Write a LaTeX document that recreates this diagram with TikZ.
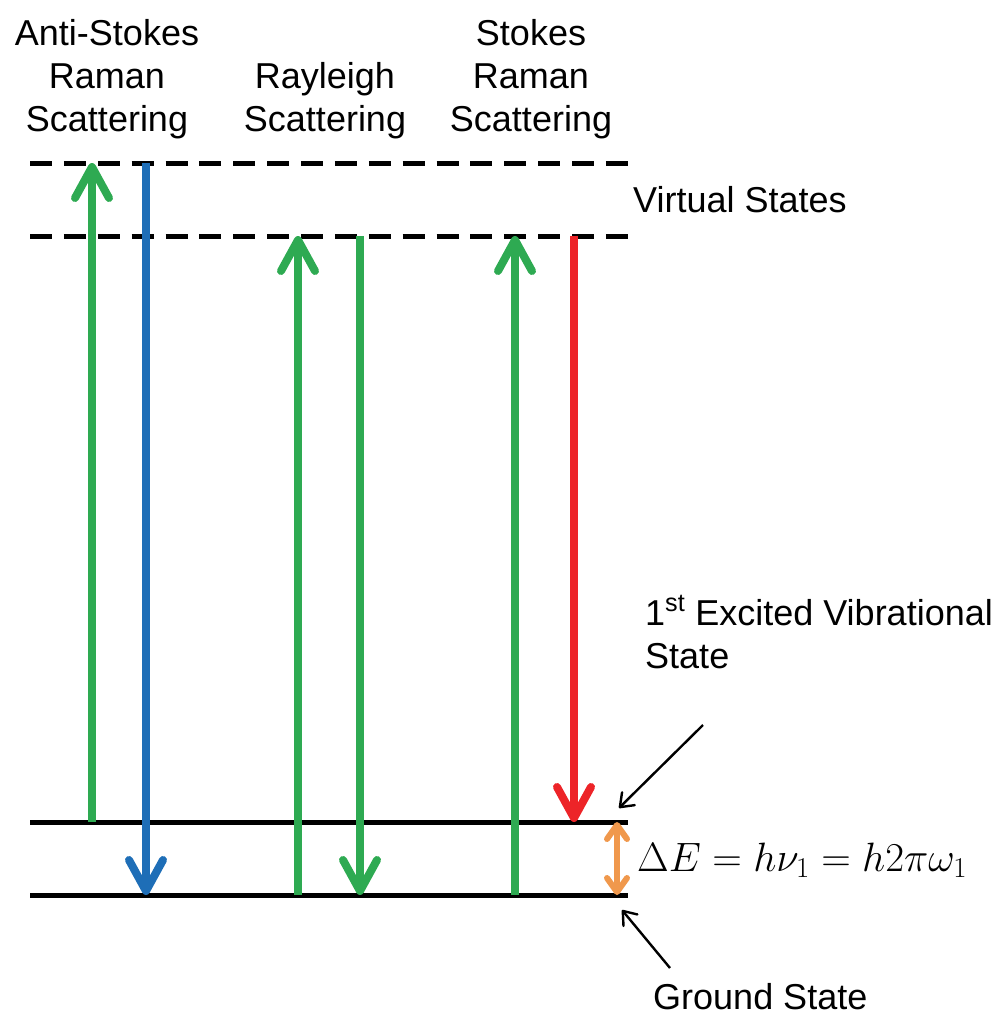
\documentclass[tikz,border=0pt]{standalone}
\usepackage{fix-cm}
\usepackage{fontspec}
\setmainfont{Liberation Sans}
\usetikzlibrary{arrows.meta}

\definecolor{upgreen}{RGB}{46,170,82}
\definecolor{asblue}{RGB}{30,110,183}
\definecolor{stred}{RGB}{237,36,40}
\definecolor{gaporange}{RGB}{240,152,76}

\tikzset{
  lbl/.style={font=\fontsize{36}{43}\selectfont, inner sep=0pt, align=center},
  lvl/.style={line width=5pt, black},
  vlvl/.style={line width=5pt, black, dash pattern=on 22pt off 11.88pt},
  photon/.style={line width=8pt, -{Straight Barb[length=31pt,width=34pt,round]}},
  pointer/.style={line width=2.4pt, black, -{Straight Barb[length=12pt,width=18pt,round]}},
}

\begin{document}
\begin{tikzpicture}[x=1pt,y=-1pt]
\path[use as bounding box] (0,0) rectangle (1005,1017);

% energy levels
\coordinate (v1L) at (30,163);  \coordinate (v1R) at (628,163);
\coordinate (v2L) at (30,236);  \coordinate (v2R) at (628,236);
\coordinate (e1L) at (30,822);  \coordinate (e1R) at (628,822);
\coordinate (g0L) at (30,895);  \coordinate (g0R) at (628,895);

\draw[vlvl] (v1L) -- (v1R);
\draw[vlvl] (v2L) -- (v2R);
\draw[lvl] (e1L) -- (e1R);
\draw[lvl] (g0L) -- (g0R);

% anti-Stokes Raman
\coordinate (asUpB) at (92,822);  \coordinate (asUpT) at (92,163);
\coordinate (asDnT) at (146,163); \coordinate (asDnB) at (146,895);
\draw[photon, upgreen] (asUpB) -- (asUpT);
\draw[photon, asblue] (asDnT) -- (asDnB);

% Rayleigh
\coordinate (rlUpB) at (298,895); \coordinate (rlUpT) at (298,236);
\coordinate (rlDnT) at (360,236); \coordinate (rlDnB) at (360,895);
\draw[photon, upgreen] (rlUpB) -- (rlUpT);
\draw[photon, upgreen] (rlDnT) -- (rlDnB);

% Stokes Raman
\coordinate (stUpB) at (515,895); \coordinate (stUpT) at (515,236);
\coordinate (stDnT) at (574,236); \coordinate (stDnB) at (574,822);
\draw[photon, upgreen] (stUpB) -- (stUpT);
\draw[photon, stred] (stDnT) -- (stDnB);

% vibrational energy gap
\coordinate (gapT) at (617,822); \coordinate (gapB) at (617,895);
\draw[line width=6pt, gaporange, {Straight Barb[length=14pt,width=20pt,round]}-{Straight Barb[length=14pt,width=20pt,round]}] (gapT) -- (gapB);

% column titles
\node[lbl, anchor=north] (tAS) at (107,19) {Anti-Stokes\\Raman\\Scattering};
\node[lbl, anchor=north] (tRL) at (325,62) {Rayleigh\\Scattering};
\node[lbl, anchor=north] (tST) at (531,19) {Stokes\\Raman\\Scattering};

% level labels
\node[lbl, anchor=base west] (tVS) at (633,212) {Virtual States};
\node[lbl, anchor=base west, align=left] (tEx) at (645,668) {1\textsuperscript{st} Excited Vibrational\\State};
\node[lbl, anchor=base west] (tGS) at (653,1009) {Ground State};
\node[inner sep=0pt, anchor=base west, font=\fontsize{41}{44}\selectfont] (tEq) at (637,871) {$\Delta E = h\nu_1 = h2\pi\omega_1$};

% pointers to the two lower levels
\coordinate (pE) at (703,725); \coordinate (pEt) at (619,808);
\coordinate (pG) at (670,968); \coordinate (pGt) at (622,910);
\draw[pointer] (pE) -- (pEt);
\draw[pointer] (pG) -- (pGt);
\end{tikzpicture}
\end{document}
